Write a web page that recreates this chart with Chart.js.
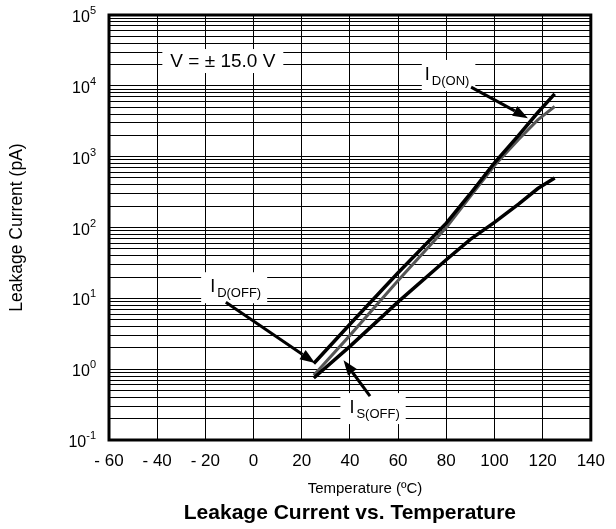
<!DOCTYPE html>
<html>
<head>
<meta charset="utf-8">
<script src="https://cdn.jsdelivr.net/npm/chart.js@4.4.0/dist/chart.umd.min.js"></script>
<style>
html,body{margin:0;padding:0;background:#fff;}
</style>
</head>
<body>
<canvas id="myChart" width="616" height="529"></canvas>
<script>
// values (temperature in C, current in pA)
var temps = [25, 40, 60, 80, 90, 100, 110, 118, 125];
var idOn  = [1.2, 4.3, 23, 115, 300, 820, 2000, 4200, 7700];
var idOff = [0.82, 3.0, 17.8, 100, 275, 750, 1750, 3300, 5100];
var isOff = [0.75, 2.1, 8.9, 35, 68, 118, 214, 355, 500];
var xTicks = [-60, -40, -20, 0, 20, 40, 60, 80, 100, 120, 140];
var yDecades = [-1, 0, 1, 2, 3, 4, 5];

var FONT = '"Liberation Sans", Arial, Helvetica, sans-serif';
Chart.defaults.font.family = FONT;
Chart.defaults.color = '#000';

function pts(vals){
  return temps.map(function(t, i){ return {x: t, y: vals[i]}; });
}

// minor + major log ticks
var yTickVals = [];
for (var k = 0; k < yDecades.length - 1; k++){
  for (var m = 1; m < 10; m++){
    yTickVals.push(m * Math.pow(10, yDecades[k]));
  }
}
yTickVals.push(Math.pow(10, yDecades[yDecades.length - 1]));

// annotation boxes, in data units
var notes = [
  {sub:'D(ON)',  x:71.5,  y:12100, padL:4,  ax0:90.3,  ay0:9600,  ax1:113.9, ay1:3500},
  {sub:'D(OFF)', x:-17.6, y:12.2,  padL:10, ax0:-11.5, ay0:8.8,   ax1:25.5,  ay1:1.22},
  {sub:'S(OFF)', x:40.2,  y:0.24,  padL:10, ax0:48.35, ay0:0.416, ax1:37.35, ay1:1.34}
];
var vNote = {text:'V = \u00b1 15.0 V', x:-12.75, y:22400};

function arrow(ctx, x0, y0, x1, y1){
  var ang = Math.atan2(y1 - y0, x1 - x0);
  var hl = 15, hw = 5.5;
  var bx = x1 - hl * Math.cos(ang), by = y1 - hl * Math.sin(ang);
  ctx.beginPath();
  ctx.moveTo(x0, y0);
  ctx.lineTo(bx, by);
  ctx.lineWidth = 3;
  ctx.strokeStyle = '#000';
  ctx.stroke();
  ctx.beginPath();
  ctx.moveTo(x1, y1);
  ctx.lineTo(bx + hw * Math.sin(ang), by - hw * Math.cos(ang));
  ctx.lineTo(bx - hw * Math.sin(ang), by + hw * Math.cos(ang));
  ctx.closePath();
  ctx.fillStyle = '#000';
  ctx.fill();
}

var extras = {
  id: 'extras',
  afterDraw: function(chart){
    var ctx = chart.ctx, xs = chart.scales.x, ys = chart.scales.y, a = chart.chartArea;
    ctx.save();
    // frame
    ctx.lineWidth = 3;
    ctx.strokeStyle = '#000';
    ctx.strokeRect(a.left, a.top, a.right - a.left, a.bottom - a.top);

    // y tick labels 10^n
    ctx.fillStyle = '#000';
    ctx.textBaseline = 'alphabetic';
    yDecades.forEach(function(d){
      var py = ys.getPixelForValue(Math.pow(10, d));
      var ex = '' + d;
      ctx.font = '11px ' + FONT;
      var we = ctx.measureText(ex).width;
      ctx.font = '16px ' + FONT;
      var wb = ctx.measureText('10').width;
      var right = 96;
      ctx.textAlign = 'left';
      ctx.fillText('10', right - we - wb, py + 7);
      ctx.font = '11px ' + FONT;
      ctx.fillText(ex, right - we, py - 1);
    });

    // x axis title, sits a bit right of centre in the original
    ctx.font = '15px ' + FONT;
    ctx.textAlign = 'center';
    ctx.textBaseline = 'middle';
    ctx.fillText('Temperature (\u00baC)', a.left + 256, 489);

    // V label
    var vx = xs.getPixelForValue(vNote.x), vy = ys.getPixelForValue(vNote.y);
    ctx.font = '19px ' + FONT;
    var vw = ctx.measureText(vNote.text).width;
    ctx.fillStyle = '#fff';
    ctx.fillRect(vx - vw / 2 - 8, vy - 12, vw + 16, 24);
    ctx.fillStyle = '#000';
    ctx.textAlign = 'center';
    ctx.textBaseline = 'middle';
    ctx.fillText(vNote.text, vx, vy + 1);

    // I labels with arrows
    notes.forEach(function(n){
      var px = xs.getPixelForValue(n.x), py = ys.getPixelForValue(n.y);
      ctx.font = '18px ' + FONT;
      var wi = ctx.measureText('I').width;
      ctx.font = '13px ' + FONT;
      var ws = ctx.measureText(n.sub).width;
      var subX = px + wi + 1;
      ctx.fillStyle = '#fff';
      ctx.fillRect(px - n.padL, py - 20, n.padL + wi + 1 + ws + 6, 31);
      ctx.fillStyle = '#000';
      ctx.textAlign = 'left';
      ctx.textBaseline = 'alphabetic';
      ctx.font = '18px ' + FONT;
      ctx.fillText('I', px - 1, py);
      ctx.font = '13px ' + FONT;
      ctx.fillText(n.sub, subX, py + 5);
      arrow(ctx, xs.getPixelForValue(n.ax0), ys.getPixelForValue(n.ay0),
                 xs.getPixelForValue(n.ax1), ys.getPixelForValue(n.ay1));
    });
    ctx.restore();
  }
};

var ctx = document.getElementById('myChart').getContext('2d');
var chart = new Chart(ctx, {
  type: 'line',
  data: {
    datasets: [
      {label: 'ID(ON)',  data: pts(idOn),  borderColor: '#000', borderWidth: 3.5},
      {label: 'IS(OFF)', data: pts(isOff), borderColor: '#000', borderWidth: 3.5},
      {label: 'ID(OFF)', data: pts(idOff), borderColor: '#555', borderWidth: 3}
    ]
  },
  options: {
    responsive: false,
    animation: false,
    elements: {point: {radius: 0}, line: {tension: 0, fill: false}},
    layout: {padding: {top: 15, right: 16, left: 0, bottom: 0}},
    plugins: {
      legend: {display: false},
      tooltip: {enabled: false},
      title: {
        display: true, position: 'bottom', fullSize: false,
        text: 'Leakage Current vs. Temperature',
        font: {size: 21, weight: 'bold'}, color: '#000',
        padding: {top: 3, bottom: 3}
      }
    },
    scales: {
      x: {
        type: 'linear', min: -60, max: 140,
        afterBuildTicks: function(s){ s.ticks = xTicks.map(function(v){ return {value: v}; }); },
        afterFit: function(s){ s.height = 57.8; },
        ticks: {
          font: {size: 17}, color: '#000', padding: 11, maxRotation: 0, autoSkip: false,
          callback: function(v){ return v < 0 ? '- ' + Math.abs(v) : '' + v; }
        },
        grid: {color: '#000', lineWidth: 1, drawTicks: false},
        border: {display: false},
        title: {display: false}
      },
      y: {
        type: 'logarithmic', min: 0.1, max: 100000,
        afterBuildTicks: function(s){ s.ticks = yTickVals.map(function(v){ return {value: v}; }); },
        afterFit: function(s){ s.width = 109; },
        ticks: {display: false},
        grid: {color: '#000', lineWidth: 1, drawTicks: false},
        border: {display: false},
        title: {display: true, text: 'Leakage Current (pA)', font: {size: 17.5}, color: '#000', padding: {top: 7, bottom: 0}}
      }
    }
  },
  plugins: [extras]
});
</script>
</body>
</html>
